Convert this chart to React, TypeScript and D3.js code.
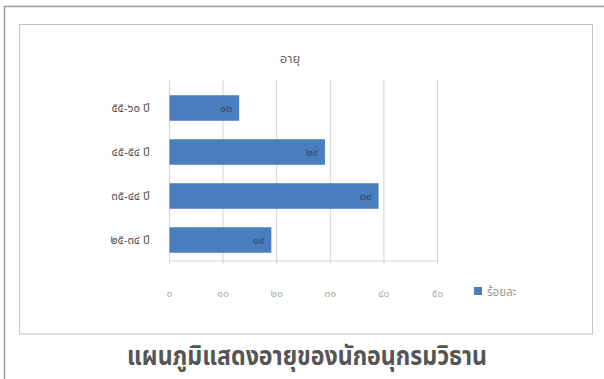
import React from "react";
import * as d3 from "d3";

const categories = ["๒๕-๓๔ ปี", "๓๕-๔๔ ปี", "๔๕-๕๔ ปี", "๕๕-๖๐ ปี"];
const values = [19, 39, 29, 13];
const valueLabels = ["๑๙", "๓๙", "๒๙", "๑๓"];
const xTicks = [0, 10, 20, 30, 40, 50];
const xTickLabels = ["๐", "๑๐", "๒๐", "๓๐", "๔๐", "๕๐"];
const chartTitle = "อายุ";
const seriesName = "ร้อยละ";
const caption = "แผนภูมิแสดงอายุของนักอนุกรมวิธาน";

const W = 604;
const H = 379;
const FONT = "'Noto Sans Thai', 'Noto Sans', 'DejaVu Sans', sans-serif";
const BAR = "#4a7ebf";

export default function App() {
  const x = d3.scaleLinear().domain([0, 50]).range([169.5, 437.5]);
  const y = d3
    .scaleBand<string>()
    .domain([...categories].reverse())
    .range([86, 262])
    .paddingInner(0.42)
    .paddingOuter(0.21);
  const plotTop = 80;
  const plotBottom = 261;

  return (
    <div style={{ position: "absolute", left: 0, top: 0 }}>
      <svg width={W} height={H} style={{ display: "block", background: "#fff" }}>
        {/* outer frame */}
        <path d={`M4.5,${H} V6.5 H${W}`} fill="none" stroke="#9a9a9a" strokeWidth={1.5} />
        {/* inner chart box */}
        <rect x={19.5} y={24.5} width={573} height={309.5} fill="#fff" stroke="#c4c4c4" strokeWidth={1} />
        {/* chart title */}
        <text x={290} y={63} textAnchor="middle" fontFamily={FONT} fontSize={13} fill="#666">
          {chartTitle}
        </text>
        {/* gridlines */}
        {xTicks.map((t) => (
          <line
            key={"g" + t}
            x1={x(t)}
            x2={x(t)}
            y1={plotTop}
            y2={plotBottom + 3}
            stroke="#d4d4d4"
            strokeWidth={1}
          />
        ))}
        {/* axis line */}
        <line x1={x(0)} x2={x(50)} y1={plotBottom} y2={plotBottom} stroke="#d4d4d4" strokeWidth={1} />
        {/* bars */}
        {categories.map((c, i) => (
          <rect
            key={"b" + c}
            x={x(0)}
            y={y(c)}
            width={x(values[i]) - x(0)}
            height={y.bandwidth()}
            fill={BAR}
          />
        ))}
        {/* data labels */}
        {categories.map((c, i) => (
          <text
            key={"l" + c}
            x={x(values[i]) - 7}
            y={(y(c) as number) + y.bandwidth() / 2 + 4}
            textAnchor="end"
            fontFamily={FONT}
            fontSize={11}
            fill="#2f4a6e"
          >
            {valueLabels[i]}
          </text>
        ))}
        {/* category labels */}
        {categories.map((c) => (
          <text
            key={"c" + c}
            x={150}
            y={(y(c) as number) + y.bandwidth() / 2 + 4}
            textAnchor="end"
            fontFamily={FONT}
            fontSize={11.5}
            fill="#555"
          >
            {c}
          </text>
        ))}
        {/* x tick labels */}
        {xTicks.map((t, i) => (
          <text
            key={"t" + t}
            x={x(t)}
            y={297}
            textAnchor="middle"
            fontFamily={FONT}
            fontSize={10.5}
            fill="#b0b0b0"
          >
            {xTickLabels[i]}
          </text>
        ))}
        {/* legend */}
        <rect x={474} y={287} width={8} height={8} fill={BAR} />
        <text x={487} y={296} fontFamily={FONT} fontSize={11.5} fill="#9a9a9a">
          {seriesName}
        </text>
        {/* caption */}
        <text
          x={307}
          y={365}
          textAnchor="middle"
          fontFamily={FONT}
          fontSize={27}
          fontWeight="bold"
          fill="#555"
          textLength={360}
          lengthAdjust="spacingAndGlyphs"
        >
          {caption}
        </text>
      </svg>
    </div>
  );
}
